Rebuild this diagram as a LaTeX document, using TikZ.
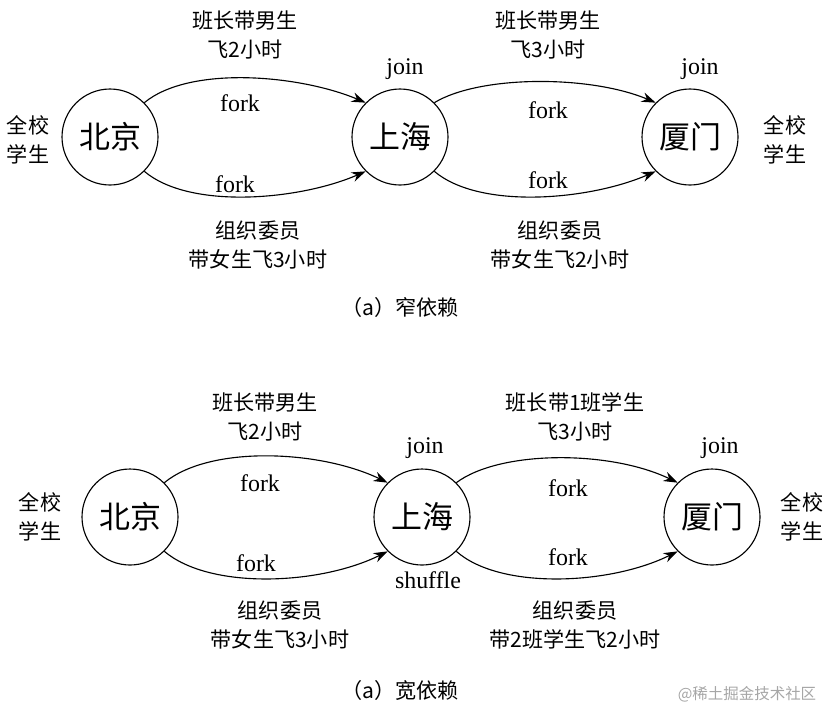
\documentclass[tikz,border=0pt]{standalone}
\usepackage{fontspec}
\setmainfont{Liberation Serif}
\newfontfamily\cjk{Noto Sans CJK SC}
\usetikzlibrary{arrows.meta}
\begin{document}
\begin{tikzpicture}[x=0.025cm,y=-0.025cm,
 city/.style={circle,draw,line width=0.8pt,minimum size=96*0.025cm,inner sep=0pt,font=\cjk\fontsize{22}{24}\selectfont},
 lab/.style={align=center,font=\cjk\fontsize{15}{21}\selectfont},
 lat/.style={font=\fontsize{17}{19}\selectfont},
 arr/.style={line width=0.8pt,-{Stealth[length=10pt,width=7pt]}}]
\useasboundingbox (0,0) rectangle (832,713);
% top
\node[city] (b1) at (110,137) {北京};
\node[city] (s1) at (400,137) {上海};
\node[city] (x1) at (690,137) {厦门};
\node[lab] (l1) at (28,140) {全校\\学生};
\node[lab] (r1) at (785,140) {全校\\学生};
\draw[arr] (b1.north east) .. controls (190,65) and (300,75) .. (s1.north west);
\draw[arr] (b1.south east) .. controls (190,210) and (300,200) .. (s1.south west);
\draw[arr] (s1.north east) .. controls (480,75) and (590,75) .. (x1.north west);
\draw[arr] (s1.south east) .. controls (480,210) and (590,200) .. (x1.south west);
\node[lat] (f1) at (240,103) {fork};
\node[lat] (f2) at (235,184) {fork};
\node[lat] (f3) at (548,110) {fork};
\node[lat] (f4) at (548,180) {fork};
\node[lat] (j1) at (405,69) {join};
\node[lat] (j2) at (700,69) {join};
\node[lab] (t1) at (245,35) {班长带男生\\飞2小时};
\node[lab] (t2) at (548,35) {班长带男生\\飞3小时};
\node[lab] (t3) at (258,245) {组织委员\\带女生飞3小时};
\node[lab] (t4) at (560,245) {组织委员\\带女生飞2小时};
\node[lab] (c1) at (400,307) {（a）窄依赖};
% bottom
\node[city] (b2) at (130,517) {北京};
\node[city] (s2) at (422,517) {上海};
\node[city] (x2) at (712,517) {厦门};
\node[lab] (l2) at (40,517) {全校\\学生};
\node[lab] (r2) at (802,517) {全校\\学生};
\draw[arr] (b2.north east) .. controls (210,445) and (320,450) .. (s2.north west);
\draw[arr] (b2.south east) .. controls (210,590) and (320,585) .. (s2.south west);
\draw[arr] (s2.north east) .. controls (500,450) and (610,450) .. (x2.north west);
\draw[arr] (s2.south east) .. controls (500,590) and (610,585) .. (x2.south west);
\node[lat] (f5) at (260,483) {fork};
\node[lat] (f6) at (256,563) {fork};
\node[lat] (f7) at (568,488) {fork};
\node[lat] (f8) at (568,557) {fork};
\node[lat] (j3) at (425,448) {join};
\node[lat] (j4) at (720,448) {join};
\node[lat] (sh) at (428,580) {shuffle};
\node[lab] (t5) at (265,417) {班长带男生\\飞2小时};
\node[lab] (t6) at (575,417) {班长带1班学生\\飞3小时};
\node[lab] (t7) at (280,625) {组织委员\\带女生飞3小时};
\node[lab] (t8) at (575,625) {组织委员\\带2班学生飞2小时};
\node[lab] (c2) at (400,690) {（a）宽依赖};
\node[font=\cjk\fontsize{11}{12}\selectfont,text=black!35] (wm) at (747,694) {@稀土掘金技术社区};
\end{tikzpicture}
\end{document}
